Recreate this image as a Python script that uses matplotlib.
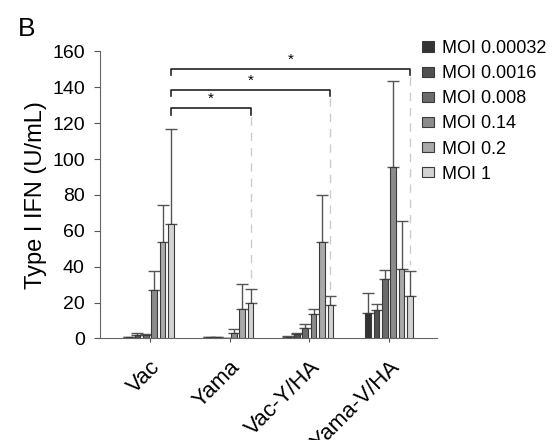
import numpy as np
import matplotlib
matplotlib.use("Agg")
import matplotlib.pyplot as plt

plt.rcParams['font.family'] = ['Liberation Sans', 'DejaVu Sans']

groups = ["Vac", "Yama", "Vac-Y/HA", "Yama-V/HA"]
moi_labels = ["MOI 0.00032", "MOI 0.0016", "MOI 0.008", "MOI 0.14", "MOI 0.2", "MOI 1"]

# rows = MOI, columns = groups
means = [
    [0.5, 0.5, 0.9, 14.3],
    [1.7, 0.5, 2.2, 16.0],
    [1.8, 0.3, 5.5, 33.0],
    [26.8, 3.1, 13.4, 95.3],
    [53.8, 16.4, 53.7, 38.5],
    [63.6, 19.8, 18.6, 23.6],
]
upper = [
    [0.6, 0.6, 1.2, 25.1],
    [3.1, 0.7, 3.1, 19.4],
    [2.4, 0.4, 7.9, 38.0],
    [37.6, 5.2, 16.5, 143.5],
    [74.6, 30.1, 80.2, 65.4],
    [116.5, 27.7, 23.4, 37.7],
]

colors = ["#333333", "#505050", "#6b6b6b", "#8b8b8b", "#a9a9a9", "#d2d2d2"]
edge = "#3a3a3a"

fig = plt.figure(figsize=(5.53, 4.40), dpi=100)
ax = fig.add_axes([0.181, 0.231, 0.609, 0.652])

x = np.arange(len(groups))
step = 0.105
width = 0.07
for k in range(6):
    xs = x + (k - 2.5) * step
    m = np.array(means[k])
    err = np.array(upper[k]) - m
    ax.bar(xs, m, width, color=colors[k], edgecolor=edge, linewidth=0.8,
           label=moi_labels[k], zorder=3)
    ax.errorbar(xs, m, yerr=[np.zeros_like(err), err], fmt="none",
                ecolor="#555555", elinewidth=1.0, capsize=4, capthick=1.0, zorder=2)

# significance brackets from Vac (last bar) to the last bar of other groups
last_off = 2.5 * step
brackets = [(1, 128.5, 124.5), (2, 138.7, 135.0), (3, 150.3, 146.7)]
for g, top, leg in brackets:
    x0 = x[0] + last_off
    x1 = x[g] + last_off
    ax.plot([x0, x0, x1, x1], [leg, top, top, leg], color="#222222", lw=1.2,
            clip_on=False, zorder=4)
    ax.plot([x1, x1], [leg - 1, upper[5][g] + 3], color="#cccccc", lw=1.0,
            ls=(0, (6, 5)), zorder=1)
    ax.text((x0 + x1) / 2, top + 1.2, "*", ha="center", va="bottom", fontsize=11)

ax.set_ylim(0, 160)
ax.set_xlim(-0.627, 3.6)
ax.set_yticks(np.arange(0, 161, 20))
ax.set_xticks(x)
ax.set_xticklabels(groups, rotation=45, ha="right", rotation_mode="anchor",
                   fontsize=16)
ax.tick_params(axis="y", labelsize=14, direction="out", length=4, color="#555555",
               pad=7)
ax.tick_params(axis="x", direction="out", length=3, color="#555555", pad=10)
for s in ["top", "right"]:
    ax.spines[s].set_visible(False)
for s in ["left", "bottom"]:
    ax.spines[s].set_color("#666666")
ax.set_ylabel("Type I IFN (U/mL)", fontsize=17, labelpad=4)

ax.legend(loc="upper left", bbox_to_anchor=(0.955, 1.04), frameon=False,
          fontsize=13, handlelength=0.7, handleheight=0.5, handletextpad=0.4,
          labelspacing=0.45, borderaxespad=0, borderpad=0)

fig.text(0.033, 0.918, "B", fontsize=19)

fig.savefig("out.png", dpi=100)
